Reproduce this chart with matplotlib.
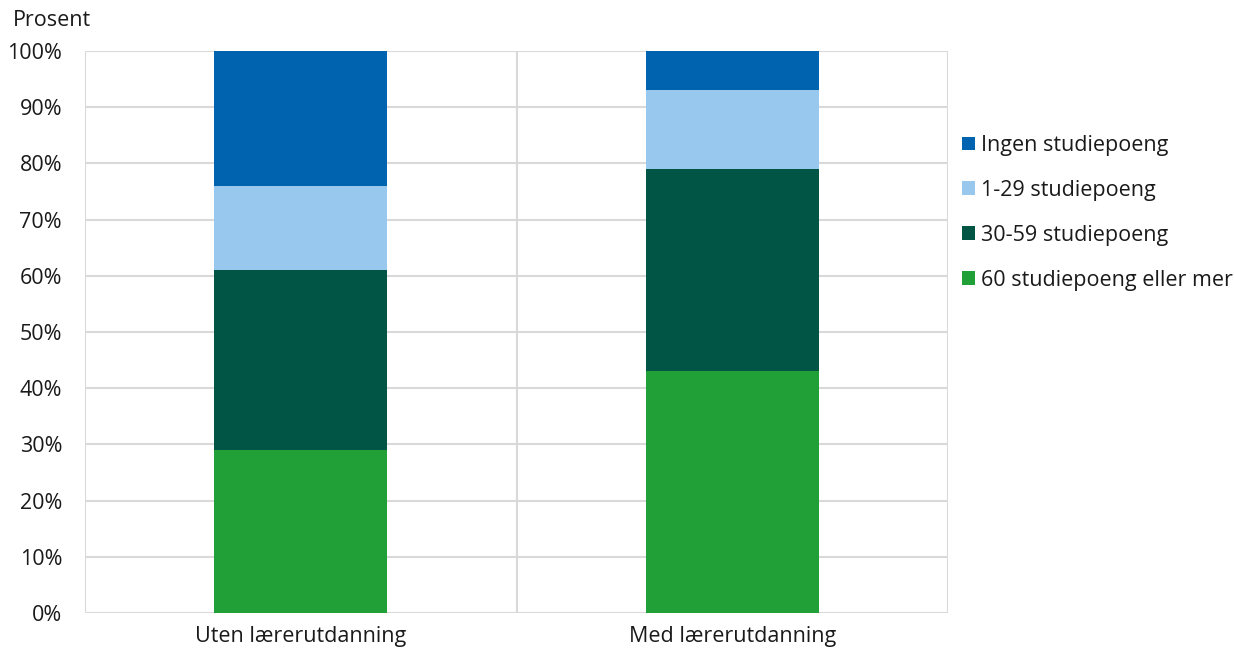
import matplotlib
matplotlib.use("Agg")
import matplotlib.pyplot as plt
from matplotlib.patches import Patch

plt.rcParams['font.family'] = ['Open Sans', 'DejaVu Sans']

categories = ["Uten lærerutdanning", "Med lærerutdanning"]
series_names = ["60 studiepoeng eller mer", "30-59 studiepoeng", "1-29 studiepoeng", "Ingen studiepoeng"]
values = {
    "60 studiepoeng eller mer": [29, 43],
    "30-59 studiepoeng": [32, 36],
    "1-29 studiepoeng": [15, 14],
    "Ingen studiepoeng": [24, 7],
}
colors = {
    "60 studiepoeng eller mer": "#21A038",
    "30-59 studiepoeng": "#005545",
    "1-29 studiepoeng": "#99C8EE",
    "Ingen studiepoeng": "#0063AF",
}
yticks = list(range(0, 101, 10))
ytick_labels = [f"{v}%" for v in yticks]

FS = 15.5
fig = plt.figure(figsize=(12.34, 6.48), dpi=100)
ax = fig.add_axes([85/1234, 1-613/648, (948-85)/1234, (613-51)/648])

x = list(range(len(categories)))
bottom = [0, 0]
for name in series_names:
    vals = values[name]
    ax.bar(x, vals, width=0.4, bottom=bottom, color=colors[name], zorder=3, linewidth=0)
    bottom = [b + v for b, v in zip(bottom, vals)]

ax.set_xlim(-0.5, 1.5)
ax.set_ylim(0, 100)
ax.set_yticks(yticks)
ax.set_yticklabels(ytick_labels)
ax.set_xticks(x)
ax.set_xticklabels(categories)
ax.tick_params(axis='both', length=0, labelsize=FS, colors='#1a1a1a')
ax.tick_params(axis='y', pad=16.5)
ax.tick_params(axis='x', pad=9.5)

grid_c = '#d9d9d9'
for yv in yticks:
    ax.axhline(yv, color=grid_c, lw=1.5, zorder=1)
for xv in [-0.5, 0.5, 1.5]:
    ax.axvline(xv, color=grid_c, lw=1.5, zorder=1)
for s in ax.spines.values():
    s.set_visible(False)

fig.text(13/1234, 1-20/648, "Prosent", fontsize=FS, color='#1a1a1a', va='center', ha='left')

handles = [Patch(facecolor=colors[n], edgecolor='none') for n in reversed(series_names)]
leg = fig.legend(handles, list(reversed(series_names)), loc='upper left',
                 bbox_to_anchor=(962/1234, 1-135/648), frameon=False, fontsize=FS,
                 handlelength=0.6, handleheight=0.6, handletextpad=0.28,
                 labelspacing=1.11, borderaxespad=0, borderpad=0)
for t in leg.get_texts():
    t.set_color('#1a1a1a')

fig.savefig("out.png", dpi=100)
